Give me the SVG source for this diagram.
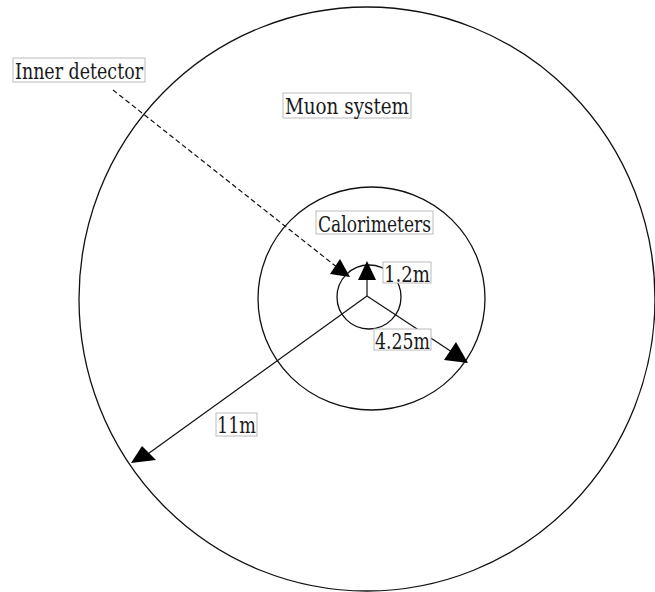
<svg xmlns="http://www.w3.org/2000/svg" width="655" height="592" viewBox="0 0 655 592">
<style>
.ring{fill:none;stroke:#111;stroke-width:1.3}
.conn{fill:none;stroke:#111;stroke-width:1.2}
.dash{stroke-dasharray:5,3}
.head{fill:#000;stroke:none}
.box{fill:#fff;stroke:#bbb;stroke-width:1}
.lbl{font-family:"DejaVu Serif Condensed","DejaVu Serif","Liberation Serif",serif;font-stretch:condensed;font-size:22px;fill:#1a1a1a}
</style>
<rect width="655" height="592" fill="#fff"/>
<g id="muon-ring"><ellipse class="ring" cx="367" cy="299" rx="288" ry="292"/></g>
<g id="calo-ring"><ellipse class="ring" cx="371.5" cy="298.5" rx="113.5" ry="111.5"/></g>
<g id="inner-ring"><circle class="ring" cx="369" cy="297" r="32"/></g>
<g id="connectors">
<line class="conn dash" x1="113" y1="90" x2="338" y2="268"/>
<line class="conn" x1="367" y1="296" x2="367" y2="275"/>
<line class="conn" x1="367" y1="296" x2="455" y2="354"/>
<line class="conn" x1="367" y1="296" x2="145" y2="456"/>
<polygon class="head" points="340,259 330,274 350,277"/>
<polygon class="head" points="367,261 358,280 376,280"/>
<polygon class="head" points="456,342 444,360 468,363"/>
<polygon class="head" points="142,446 131,463 156,460"/>
</g>
<g id="inner-detector"><rect class="box" x="13" y="58" width="132" height="24"/><text class="lbl" x="15" y="79" textLength="128" lengthAdjust="spacingAndGlyphs">Inner detector</text></g>
<g id="muon-system"><rect class="box" x="283" y="93" width="128" height="25"/><text class="lbl" x="285" y="114" textLength="124" lengthAdjust="spacingAndGlyphs">Muon system</text></g>
<g id="calorimeters"><rect class="box" x="316" y="211" width="117" height="23"/><text class="lbl" x="318" y="232" textLength="113" lengthAdjust="spacingAndGlyphs">Calorimeters</text></g>
<g id="label-1-2m"><rect class="box" x="383" y="262" width="48" height="21"/><text class="lbl" x="384" y="282" textLength="46" lengthAdjust="spacingAndGlyphs">1.2m</text></g>
<g id="label-4-25m"><rect class="box" x="374" y="329" width="57" height="21"/><text class="lbl" x="375" y="349" textLength="55" lengthAdjust="spacingAndGlyphs">4.25m</text></g>
<g id="label-11m"><rect class="box" x="216" y="413" width="41" height="23"/><text class="lbl" x="217" y="433" textLength="39" lengthAdjust="spacingAndGlyphs">11m</text></g>
</svg>
